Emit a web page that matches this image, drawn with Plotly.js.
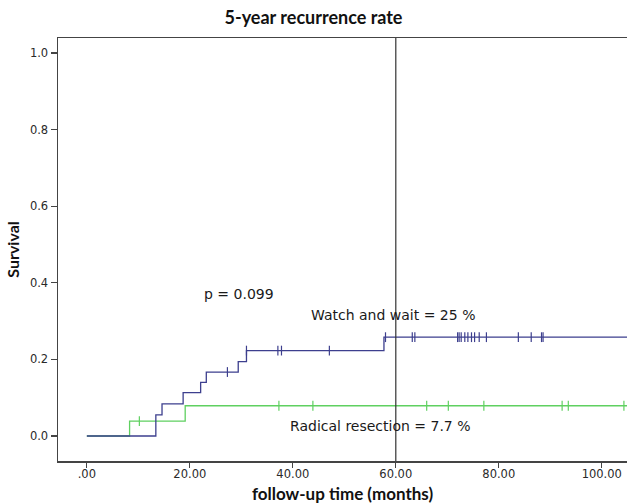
<!DOCTYPE html>
<html>
<head>
<meta charset="utf-8">
<script src="https://cdn.plot.ly/plotly-3.0.1.min.js"></script>
<style>html,body{margin:0;padding:0;background:#fff;}#chart{width:627px;height:504px;}</style>
</head>
<body>
<div id="chart"></div>
<script>
// Watch and wait: cumulative recurrence step curve (months, rate)
const wwTime = [0, 13.4, 14.6, 18.7, 22.1, 23.2, 29.4, 31.0, 57.7, 106];
const wwRate = [0, 0.055, 0.084, 0.113, 0.140, 0.167, 0.194, 0.223, 0.258, 0.258];
const wwCensTime = [27.3, 31.0, 37.1, 37.8, 47.1, 58.0, 63.2, 63.7, 72.0, 72.3, 72.7, 73.4, 74.0, 74.7, 75.3, 76.2, 77.6, 83.8, 86.3, 88.3, 88.6];
const wwCensRate = [0.167, 0.223, 0.223, 0.223, 0.223, 0.258, 0.258, 0.258, 0.258, 0.258, 0.258, 0.258, 0.258, 0.258, 0.258, 0.258, 0.258, 0.258, 0.258, 0.258, 0.258];

// Radical resection
const rrTime = [0, 8.3, 19.1, 106];
const rrRate = [0, 0.039, 0.079, 0.079];
const rrCensTime = [10.2, 37.3, 43.9, 66.0, 70.2, 77.1, 92.3, 93.5, 104.3];
const rrCensRate = [0.039, 0.079, 0.079, 0.079, 0.079, 0.079, 0.079, 0.079, 0.079];

const xTickVals = [0, 20, 40, 60, 80, 100];
const xTickText = ['.00', '20.00', '40.00', '60.00', '80.00', '100.00'];
const yTickVals = [0, 0.2, 0.4, 0.6, 0.8, 1.0];
const yTickText = ['0.0', '0.2', '0.4', '0.6', '0.8', '1.0'];

const blue = '#3d3f8e';
const green = '#5fd060';

const traces = [
  {x: rrTime, y: rrRate, mode: 'lines', line: {shape: 'hv', color: green, width: 1.3}, hoverinfo: 'skip'},
  {x: rrCensTime, y: rrCensRate, mode: 'markers', marker: {symbol: 'line-ns-open', size: 7, color: green, line: {color: green, width: 1.2}}, hoverinfo: 'skip'},
  {x: wwTime, y: wwRate, mode: 'lines', line: {shape: 'hv', color: blue, width: 1.3}, hoverinfo: 'skip'},
  {x: wwCensTime, y: wwCensRate, mode: 'markers', marker: {symbol: 'line-ns-open', size: 7, color: blue, line: {color: blue, width: 1.2}}, hoverinfo: 'skip'}
];

const annFont = {family: 'DejaVu Sans, sans-serif', size: 14, color: '#1a1a1a'};

const layout = {
  width: 627, height: 504,
  margin: {l: 58, r: 0, t: 38, b: 43},
  paper_bgcolor: '#fff', plot_bgcolor: '#fff',
  showlegend: false,
  title: {text: '<b>5-year recurrence rate</b>', x: 0.5, xref: 'container', y: 0.964, yanchor: 'middle',
          font: {family: 'Lato, sans-serif', size: 18, color: '#111'}},
  xaxis: {
    range: [-5.6, 104.9], showgrid: false, zeroline: false,
    showline: true, linecolor: '#444', linewidth: 1.5, mirror: true,
    ticks: 'outside', ticklen: 5, tickcolor: '#444', tickwidth: 1.2,
    ticklabelstandoff: -3,
    tickvals: xTickVals, ticktext: xTickText,
    tickfont: {family: 'DejaVu Sans, sans-serif', size: 11.5, color: '#2a2a2a'},
    title: {text: '<b>follow-up time (months)</b>', standoff: 10, font: {family: 'Lato, sans-serif', size: 17, color: '#111'}}
  },
  yaxis: {
    range: [-0.0653, 1.0392], showgrid: false, zeroline: false,
    showline: true, linecolor: '#444', linewidth: 1.5,
    ticks: 'outside', ticklen: 6, tickcolor: '#444', tickwidth: 1.2,
    tickvals: yTickVals, ticktext: yTickText,
    tickfont: {family: 'DejaVu Sans, sans-serif', size: 11.5, color: '#2a2a2a'},
    title: {text: '<b>Survival</b>', standoff: 6, font: {family: 'Lato, sans-serif', size: 16, color: '#111'}}
  },
  shapes: [
    {type: 'line', xref: 'x', yref: 'paper', x0: 60, x1: 60, y0: 0, y1: 1, line: {color: '#333', width: 1.2}}
  ],
  annotations: [
    {text: 'p = 0.099', x: 29.5, y: 0.371, xref: 'x', yref: 'y', showarrow: false, font: annFont},
    {text: 'Watch and wait = 25 %', x: 59.4, y: 0.316, xref: 'x', yref: 'y', showarrow: false, font: annFont},
    {text: 'Radical resection = 7.7 %', x: 57.1, y: 0.027, xref: 'x', yref: 'y', showarrow: false, font: annFont}
  ]
};

Plotly.newPlot('chart', traces, layout, {displayModeBar: false, staticPlot: true});
</script>
</body>
</html>
